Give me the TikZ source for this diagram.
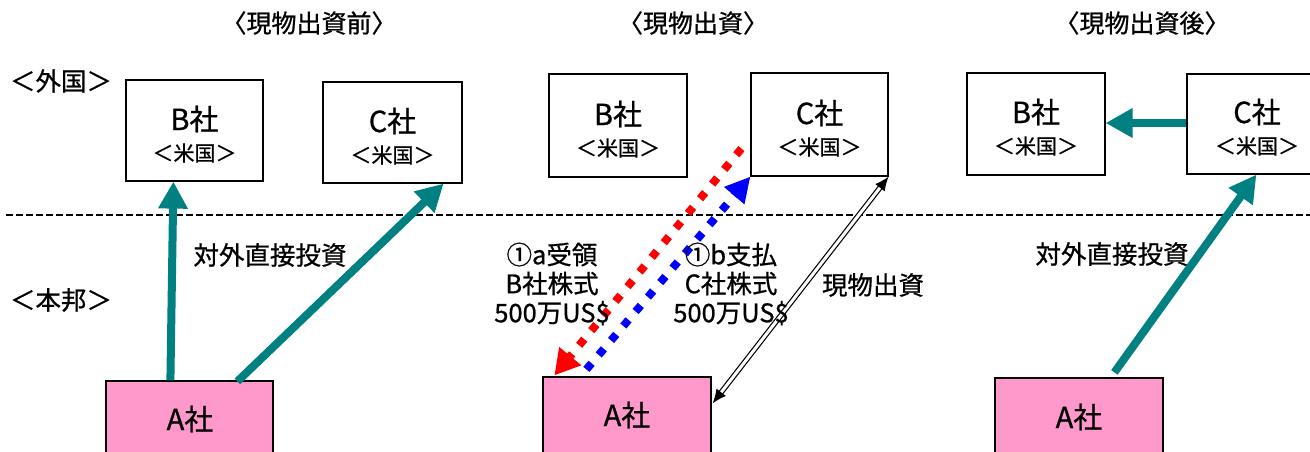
\documentclass[tikz,border=0pt]{standalone}
\usepackage{fontspec}
\setmainfont{Noto Sans CJK JP}[RawFeature={embolden=0.8}]
\usetikzlibrary{arrows.meta,calc}
\definecolor{tealA}{RGB}{0,128,128}
\definecolor{pinkA}{RGB}{255,153,204}
\definecolor{redA}{RGB}{255,0,0}
\definecolor{blueA}{RGB}{0,0,255}
\begin{document}
\begin{tikzpicture}[x=1pt,y=-1pt,
  cobox/.style={draw,line width=1.2pt,fill=white,inner sep=0pt},
  abox/.style={draw,line width=1.2pt,fill=pinkA,inner sep=0pt,minimum width=167pt,minimum height=90pt},
  coname/.style={inner sep=0pt,font=\fontsize{29}{32}\selectfont},
  coplace/.style={inner sep=0pt,font=\fontsize{21}{24}\selectfont},
  ttl/.style={inner sep=0pt,font=\fontsize{25}{28}\selectfont},
  lbl/.style={inner sep=0pt,font=\fontsize{25.5}{29}\selectfont,align=center},
  tealarrow/.style={draw=tealA,line width=8pt,-{Triangle[length=27pt,width=28pt]}},
  redarrow/.style={draw=redA,line width=8pt,dash pattern=on 8pt off 11pt,-{Triangle[length=25pt,width=27pt]}},
  bluearrow/.style={draw=blueA,line width=8pt,dash pattern=on 8pt off 11pt,-{Triangle[length=25pt,width=25pt]}},
  dblarrow/.style={double,double distance=3pt,line width=1.2pt,{Latex[length=14pt,width=12pt]}-{Latex[length=14pt,width=12pt]}},
  border/.style={line width=2pt,dash pattern=on 7pt off 3pt}
]
\useasboundingbox (0,0) rectangle (1310,452);
\begin{scope}
\clip (0,0) rectangle (1310,452);
% titles and region labels
\node[ttl] (t1) at (309,23) {〈現物出資前〉};
\node[ttl] (t2) at (693,23) {〈現物出資〉};
\node[ttl] (t3) at (1142,23) {〈現物出資後〉};
\node[lbl] (gaikoku) at (61,81) {＜外国＞};
\node[lbl] (honpo) at (61,300) {＜本邦＞};
% border line
\coordinate (dl) at (6,215);
\coordinate (dr) at (1312,215);
\draw[border] (dl) -- (dr);
% ---- left panel
\node[cobox,minimum width=137pt,minimum height=101pt] (LB) at (194.5,130.5) {};
\node[coname] (LBn) at (194.5,119) {B社};
\node[coplace] (LBp) at (194.5,153) {＜米国＞};
\node[cobox,minimum width=139pt,minimum height=101pt] (LC) at (392.5,132.5) {};
\node[coname] (LCn) at (392.5,121) {C社};
\node[coplace] (LCp) at (392.5,155) {＜米国＞};
\node[abox] (LA) at (189.5,426) {};
\node[coname] (LAn) at (190,419) {A社};
\draw[tealarrow] ($(LA.north west)+(65,0)$) -- ($(LB.south west)+(48,0)$);
\draw[tealarrow] ($(LA.north west)+(132,1)$) -- ($(LC.south east)+(-19,0)$);
\node[lbl] (fdi1) at (270,255) {対外直接投資};
% ---- middle panel
\node[cobox,minimum width=138pt,minimum height=103pt] (MB) at (618,125.5) {};
\node[coname] (MBn) at (618,114) {B社};
\node[coplace] (MBp) at (618,148) {＜米国＞};
\node[cobox,minimum width=137pt,minimum height=103pt] (MC) at (819.5,124.5) {};
\node[coname] (MCn) at (819.5,113) {C社};
\node[coplace] (MCp) at (819.5,147) {＜米国＞};
\node[abox,minimum width=168pt] (MA) at (627,422) {};
\node[coname] (MAn) at (627,415) {A社};
\draw[redarrow] ($(MC.south west)+(-9,-28)$) -- ($(MA.north west)+(12,-1)$);
\draw[bluearrow] ($(MA.north west)+(44,-7)$) -- (MC.south west);
\draw[dblarrow] (MC.south east) -- ($(MA.north east)+(1,27)$);
\node[lbl] (recv) at (552,284) {①a受領\\B社株式\\500万US\$};
\node[lbl] (pay) at (731,284) {①b支払\\C社株式\\500万US\$};
\node[lbl] (inkind) at (873,285) {現物出資};
% ---- right panel
\node[cobox,minimum width=138pt,minimum height=102pt] (RB) at (1036,124) {};
\node[coname] (RBn) at (1036,112) {B社};
\node[coplace] (RBp) at (1036,146) {＜米国＞};
\node[cobox,minimum width=140pt,minimum height=100pt] (RC) at (1257,124) {};
\node[coname] (RCn) at (1257,112) {C社};
\node[coplace] (RCp) at (1257,146) {＜米国＞};
\node[abox,minimum width=168pt] (RA) at (1079,423) {};
\node[coname] (RAn) at (1079,417) {A社};
\draw[tealarrow] ($(RA.north west)+(120,-5)$) -- ($(RC.south west)+(70,0)$);
\draw[tealarrow] ($(RC.west)+(0,-1)$) -- ($(RB.east)+(0,-1)$);
\node[lbl] (fdi2) at (1112,254) {対外直接投資};
\end{scope}
\end{tikzpicture}
\end{document}
